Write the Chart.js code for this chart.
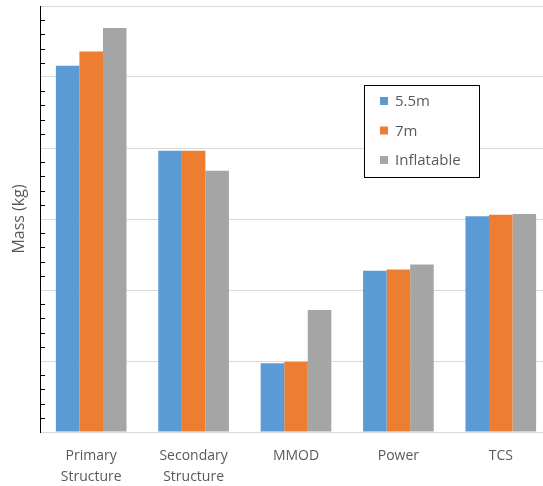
<!DOCTYPE html>
<html>
<head>
<meta charset="utf-8">
<script src="https://cdn.jsdelivr.net/npm/chart.js@4/dist/chart.umd.min.js"></script>
<style>
  html, body { margin: 0; padding: 0; background: #fff; overflow: hidden; }
  #wrap { position: relative; width: 543px; height: 486px; overflow: hidden; }
  #c { display: block; }
</style>
</head>
<body>
<div id="wrap"><canvas id="c" width="552" height="486"></canvas></div>
<script>
// Subsystem mass comparison for three habitat options
const categories = [["Primary", "Structure"], ["Secondary", "Structure"], "MMOD", "Power", "TCS"];
const seriesNames = ["5.5m", "7m", "Inflatable"];
const mass55 = [5.16, 3.96, 0.97, 2.27, 3.04];
const mass7 = [5.36, 3.96, 0.99, 2.29, 3.06];
const massInflatable = [5.69, 3.68, 1.72, 2.36, 3.07];
const seriesColors = ["#5B9BD5", "#ED7D31", "#A5A5A5"];

const FONT = "Open Sans";
const TEXT = "#595959";

// Short inside tick marks on the value axis between major gridlines
const minorTicks = {
  id: "minorTicks",
  afterDatasetsDraw(chart) {
    const y = chart.scales.y;
    const ctx = chart.ctx;
    ctx.save();
    ctx.strokeStyle = "#000";
    ctx.lineWidth = 1;
    for (let i = 0; i <= 30; i++) {
      if (i % 5 === 0) continue;
      const py = Math.round(y.getPixelForValue(i / 5)) + 0.5;
      ctx.beginPath();
      ctx.moveTo(y.right, py);
      ctx.lineTo(y.right + 5, py);
      ctx.stroke();
    }
    ctx.restore();
  }
};

// Boxed legend placed inside the plot
const boxedLegend = {
  id: "boxedLegend",
  afterDraw(chart) {
    const ctx = chart.ctx;
    const x0 = 364, y0 = 85, w = 115, h = 92;
    ctx.save();
    ctx.fillStyle = "#fff";
    ctx.fillRect(x0, y0, w, h);
    ctx.strokeStyle = "#000";
    ctx.lineWidth = 1;
    ctx.strokeRect(x0 + 0.5, y0 + 0.5, w, h);
    ctx.font = "15px '" + FONT + "'";
    ctx.textBaseline = "middle";
    chart.data.datasets.forEach((ds, i) => {
      const cy = 101 + i * 29.5;
      ctx.fillStyle = ds.backgroundColor;
      ctx.fillRect(380, cy - 4, 8, 8);
      ctx.fillStyle = TEXT;
      ctx.fillText(ds.label, 395, cy + 1);
    });
    ctx.restore();
  }
};

new Chart(document.getElementById("c"), {
  type: "bar",
  data: {
    labels: categories,
    datasets: [
      { label: seriesNames[0], data: mass55, backgroundColor: seriesColors[0] },
      { label: seriesNames[1], data: mass7, backgroundColor: seriesColors[1] },
      { label: seriesNames[2], data: massInflatable, backgroundColor: seriesColors[2] }
    ]
  },
  options: {
    responsive: false,
    animation: false,
    layout: { padding: { top: 6, right: 0, left: 0, bottom: 0 } },
    datasets: { bar: { categoryPercentage: 0.69, barPercentage: 1.0 } },
    plugins: { legend: { display: false }, tooltip: { enabled: false } },
    scales: {
      x: {
        grid: { display: false, drawTicks: false },
        border: { color: "#d9d9d9" },
        ticks: { color: TEXT, font: { family: FONT, size: 14, lineHeight: 1.5 }, padding: 14, maxRotation: 0 },
        afterFit(scale) { scale.height = 54; }
      },
      y: {
        min: 0, max: 6,
        ticks: { display: false, stepSize: 1 },
        grid: { color: "#d9d9d9", drawTicks: false },
        border: { color: "#000", width: 1 },
        title: { display: true, text: "Mass (kg)", color: TEXT, font: { family: FONT, size: 16 }, padding: { top: 10, bottom: 0 } },
        afterFit(scale) { scale.width = 40; }
      }
    }
  },
  plugins: [minorTicks, boxedLegend]
});
</script>
</body>
</html>
